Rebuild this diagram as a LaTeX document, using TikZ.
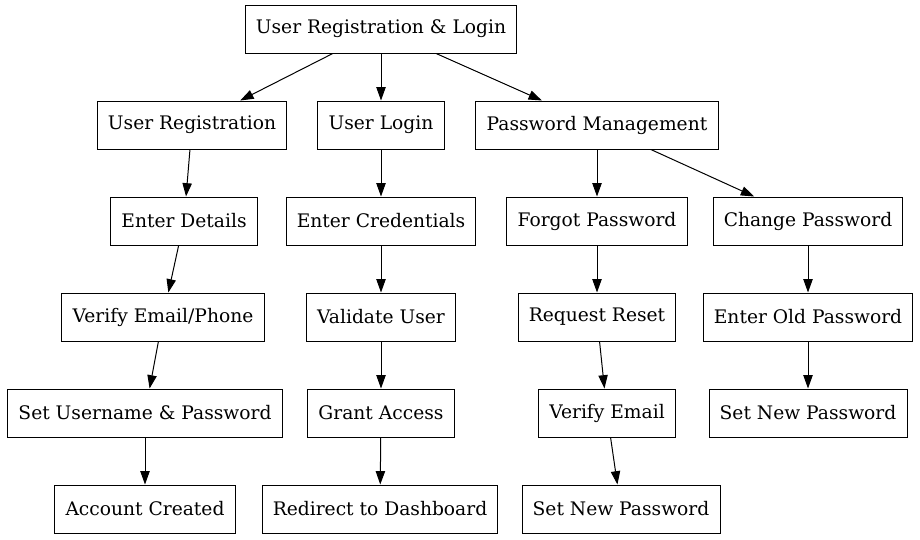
\documentclass[tikz,border=0pt]{standalone}
\usepackage{fontspec}
\setmainfont{DejaVu Serif}
\usetikzlibrary{arrows.meta,positioning}
\tikzset{
	box/.style={draw,rectangle,align=center,minimum height=36pt,inner xsep=8pt,font=\fontsize{14}{16}\selectfont},
	every new ->/.style={shorten >=0pt},
	>={Triangle[length=10pt,width=7pt]}
}
\begin{document}
\begin{tikzpicture}[x=0.75pt,y=-0.75pt,line width=0.75pt]
            \useasboundingbox (0,0) rectangle (920,539);
            \node[box] (root) at (381,29) {User Registration \& Login};
            \node[box] (reg) at (192,125) {User Registration};
            \node[box] (login) at (381,125) {User Login};
            \node[box] (pwd) at (597,125) {Password Management};
            \node[box] (details) at (184,221) {Enter Details};
            \node[box] (creds) at (381,221) {Enter Credentials};
            \node[box] (forgot) at (597,221) {Forgot Password};
            \node[box] (change) at (808,221) {Change Password};
            \node[box] (verify) at (163,317) {Verify Email/Phone};
            \node[box] (validate) at (381,317) {Validate User};
            \node[box] (reset) at (597,317) {Request Reset};
            \node[box] (old) at (808,317) {Enter Old Password};
            \node[box] (setup) at (145,413) {Set Username \& Password};
            \node[box] (grant) at (381,413) {Grant Access};
            \node[box] (vemail) at (607,413) {Verify Email};
            \node[box] (newa) at (808,413) {Set New Password};
            \node[box] (created) at (145,509) {Account Created};
            \node[box] (dash) at (380,509) {Redirect to Dashboard};
            \node[box] (newb) at (621,509) {Set New Password};
            \draw[->] (root) -- (reg);
            \draw[->] (root) -- (login);
            \draw[->] (root) -- (pwd);
            \draw[->] (reg) -- (details);
            \draw[->] (details) -- (verify);
            \draw[->] (verify) -- (setup);
            \draw[->] (setup) -- (created);
            \draw[->] (login) -- (creds);
            \draw[->] (creds) -- (validate);
            \draw[->] (validate) -- (grant);
            \draw[->] (grant) -- (dash);
            \draw[->] (pwd) -- (forgot);
            \draw[->] (pwd) -- (change);
            \draw[->] (forgot) -- (reset);
            \draw[->] (reset) -- (vemail);
            \draw[->] (vemail) -- (newb);
            \draw[->] (change) -- (old);
            \draw[->] (old) -- (newa);
        \end{tikzpicture}
\end{document}
